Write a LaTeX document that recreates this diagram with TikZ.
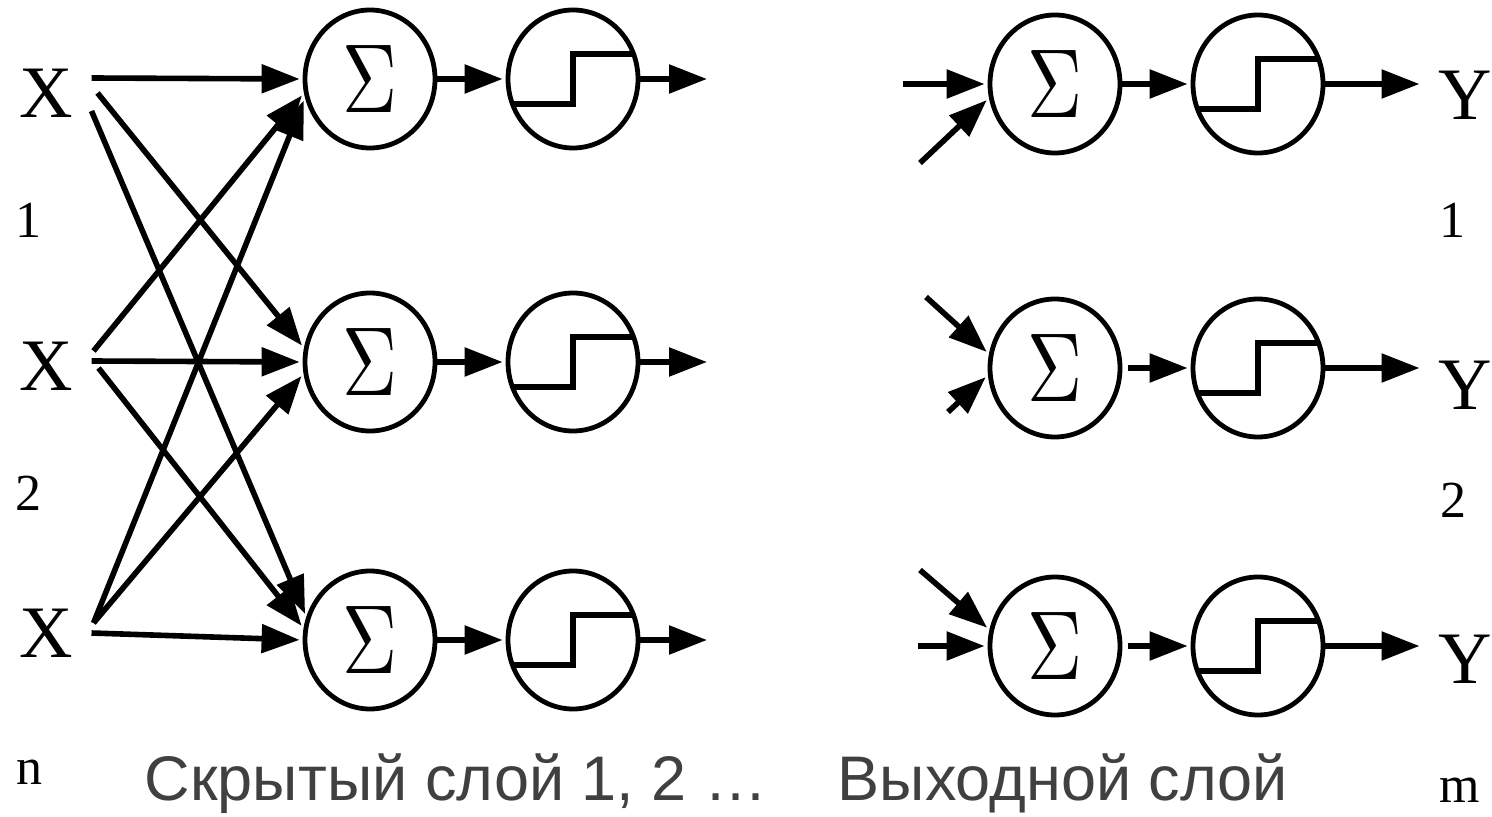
\documentclass[tikz,border=0pt]{standalone}
\usepackage{graphicx}
\usepackage{fontspec}
\setmainfont{Liberation Serif}
\newfontfamily\capfont{Liberation Sans}
\usetikzlibrary{positioning,arrows.meta,calc,shapes.geometric}

\begin{document}
\begin{tikzpicture}[x=0.5pt,y=-0.5pt,line width=2.8pt,>={Triangle[length=19pt,width=14pt]}]
\tikzstyle{sm} = [draw,shape=ellipse,minimum width=65pt,minimum height=69pt,inner sep=0pt,line width=2.4pt]
\tikzstyle{act} = [draw,shape=ellipse,minimum width=65pt,minimum height=69pt,inner sep=0pt,line width=2.4pt]
\tikzstyle{var} = [inner xsep=8pt,inner ysep=0pt,font=\fontsize{37}{40}\selectfont]
\tikzstyle{idx} = [inner sep=0pt,font=\fontsize{26}{28}\selectfont]
\tikzstyle{capt} = [anchor=base west,inner sep=0pt,text=black!75,font=\capfont\fontsize{31.5}{34}\selectfont]
\tikzstyle{arr} = [->,shorten >=1.5pt]
\fill[white] (0,0) rectangle (1492,817);
\useasboundingbox (0,0) rectangle (1492,817);
% inputs
\node[var] (x1) at (46,93)  {X};
\node[var] (x2) at (46,366) {X};
\node[var] (x3) at (46,633) {X};
\node[idx] (n1) at (28,220) {1};
\node[idx] (n2) at (28,493) {2};
\node[idx] (n3) at (30,772) {n};
% hidden layer
\node[sm] (h1) at (370,79)  {\scalebox{3.8}[4.9]{$\Sigma$}};
\node[sm] (h2) at (370,362) {\scalebox{3.8}[4.9]{$\Sigma$}};
\node[sm] (h3) at (370,640) {\scalebox{3.8}[4.9]{$\Sigma$}};
\node[act] (f1) at (573,79)  {};
\node[act] (f2) at (573,362) {};
\node[act] (f3) at (573,640) {};
\coordinate (o1) at (707,79);
\coordinate (o2) at (707,362);
\coordinate (o3) at (707,640);
\draw[arr] ($(x1.east)+(0,-15)$) -- (h1.west);
\draw[arr] ($(x1.east)+(6,0)$)   -- (h2.168);
\draw[arr] ($(x1.east)+(0,18)$)  -- (h3.160);
\draw[arr] ($(x2.east)+(2,-15)$) -- (h1.192);
\draw[arr] ($(x2.east)+(0,-5)$)  -- (h2.west);
\draw[arr] ($(x2.east)+(7,2)$)   -- (h3.170);
\draw[arr] ($(x3.east)+(2,-10)$) -- (h1.196);
\draw[arr] ($(x3.east)+(2,-10)$) -- (h2.190);
\draw[arr] (x3.east) -- (h3.west);
\draw[arr] (h1.east) -- (f1.west);
\draw[arr] (h2.east) -- (f2.west);
\draw[arr] (h3.east) -- (f3.west);
\draw[->] (f1.east) -- (o1);
\draw[->] (f2.east) -- (o2);
\draw[->] (f3.east) -- (o3);
% output layer
\node[sm] (r1) at (1055,84)  {\scalebox{3.8}[4.9]{$\Sigma$}};
\node[sm] (r2) at (1055,368) {\scalebox{3.8}[4.9]{$\Sigma$}};
\node[sm] (r3) at (1055,646) {\scalebox{3.8}[4.9]{$\Sigma$}};
\node[act] (g1) at (1258,84)  {};
\node[act] (g2) at (1258,368) {};
\node[act] (g3) at (1258,646) {};
\node[var] (y1) at (1465,95)  {Y};
\node[var] (y2) at (1465,385) {Y};
\node[var] (y3) at (1465,659) {Y};
\node[idx] (m1) at (1452,220) {1};
\node[idx] (m2) at (1453,500) {2};
\node[idx] (m3) at (1460,790) {m};
\coordinate (i1a) at (903,84);
\coordinate (i1b) at (920,163);
\coordinate (i2a) at (926,297);
\coordinate (i2b) at (948,412);
\coordinate (i3a) at (920,570);
\coordinate (i3b) at (918,646);
\draw[arr] (i1a) -- (r1.west);
\draw[arr] (i1b) -- (r1.192);
\draw[arr] (i2a) -- (r2.168);
\draw[arr] (i2b) -- (r2.186);
\draw[arr] (i3a) -- (r3.166);
\draw[arr] (i3b) -- (r3.west);
\draw[arr] (r1.east) -- (g1.west);
\draw[arr] ([xshift=3pt]r2.east) -- (g2.west);
\draw[arr] ([xshift=3pt]r3.east) -- (g3.west);
\draw[->] (g1.east) -- (g1.east -| y1.west);
\draw[->] (g2.east) -- (g2.east -| y2.west);
\draw[->] (g3.east) -- (g3.east -| y3.west);
% step functions
\draw (f1.center) ++(-60,25) -- ++(60,0) -- ++(0,-50) -- ++(60,0);
\draw (f2.center) ++(-60,25) -- ++(60,0) -- ++(0,-50) -- ++(60,0);
\draw (f3.center) ++(-60,25) -- ++(60,0) -- ++(0,-50) -- ++(60,0);
\draw (g1.center) ++(-60,25) -- ++(60,0) -- ++(0,-50) -- ++(60,0);
\draw (g2.center) ++(-60,25) -- ++(60,0) -- ++(0,-50) -- ++(60,0);
\draw (g3.center) ++(-60,25) -- ++(60,0) -- ++(0,-50) -- ++(60,0);
% captions
\node[capt] (c1) at (142,800) {Скрытый слой 1, 2 …};
\node[capt] (c2) at (835,800) {Выходной слой};
\end{tikzpicture}
\end{document}
